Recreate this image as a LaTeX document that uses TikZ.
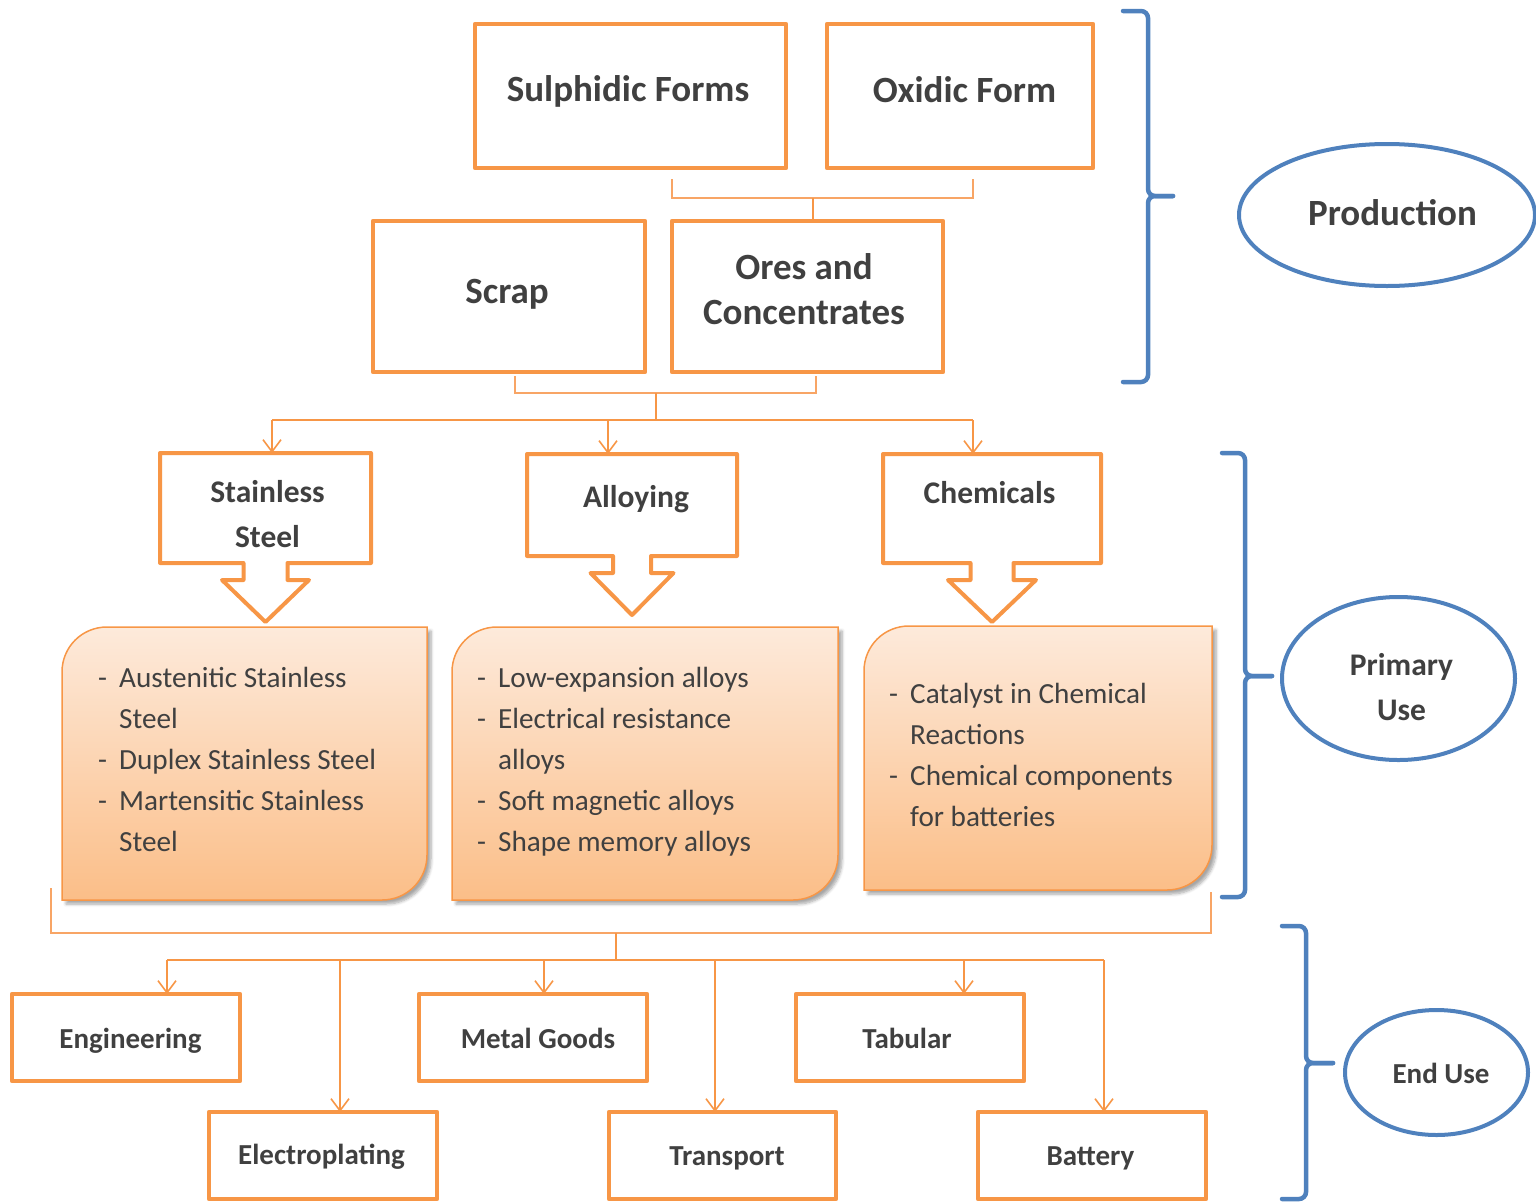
\documentclass[tikz,border=0pt]{standalone}
\usepackage{fontspec}
\setmainfont{Carlito}
\usetikzlibrary{arrows.meta,shadows,shadows.blur,calc,shapes.geometric}
\definecolor{org}{HTML}{F79646}
\definecolor{orgl}{HTML}{F8A565}
\definecolor{blu}{HTML}{4F81BD}
\definecolor{txt}{HTML}{404040}
\definecolor{ptop}{HTML}{FDEADB}
\definecolor{pbot}{HTML}{FBBE88}
\begin{document}
\begin{tikzpicture}[x=1pt,y=-1pt,
  obox/.style={draw=org,line width=4.5pt,line join=round,inner sep=0pt,outer sep=0pt},
  hold/.style={inner sep=0pt,outer sep=0pt},
  callout/.style={draw=org,line width=4pt,line join=round,fill=white},
  ubox/.style={draw=org,line width=1.5pt,top color=ptop,bottom color=pbot,
    blur shadow={shadow xshift=4pt,shadow yshift=-4pt,shadow blur steps=6,shadow blur radius=3pt,shadow opacity=35}},
  ell/.style={draw=blu,line width=4pt,ellipse,inner sep=0pt},
  brace/.style={draw=blu,line width=4.5pt,rounded corners=7pt,line cap=round},
  conn/.style={draw=org,line width=1.6pt},
  conl/.style={draw=orgl,line width=1.4pt},
  arr/.style={conn,-{Straight Barb[length=12pt,width=18pt,line width=1.6pt]}},
  lbig/.style={anchor=base,inner sep=0pt,text=txt,font=\fontsize{37}{45}\selectfont\bfseries},
  lmid/.style={anchor=base,inner sep=0pt,text=txt,font=\fontsize{31.5}{45}\selectfont\bfseries},
  lsml/.style={anchor=base,inner sep=0pt,text=txt,font=\fontsize{29}{45}\selectfont\bfseries},
  list/.style={anchor=base west,inner sep=0pt,text=txt,font=\fontsize{29.2}{41}\selectfont}
]
\useasboundingbox (0,0) rectangle (1536,1202);

% ---------- production boxes
\node[obox,minimum width=311pt,minimum height=144pt] (sulph) at (630.5,96) {};
\node[obox,minimum width=266pt,minimum height=144pt] (oxid) at (960,96) {};
\node[obox,minimum width=272pt,minimum height=151pt] (scrap) at (509,296.5) {};
\node[obox,minimum width=271pt,minimum height=151pt] (ores) at (807.5,296.5) {};
\node[lbig] (tsulph) at (628,101) {Sulphidic Forms};
\node[lbig] (toxid) at (964.5,102) {Oxidic Form};
\node[lbig] (tscrap) at (507,303) {Scrap};
\node[lbig] (tores) at (804,279) {\begin{tabular}[t]{@{}c@{}}Ores and\\Concentrates\end{tabular}};

% ---------- connectors production
\coordinate (p1) at (672,179);
\coordinate (p1b) at (672,198);
\coordinate (p2b) at (973,198);
\coordinate (p2) at (973,179);
\coordinate (pj) at (813,198);
\draw[conl] (p1) -- (p1b) -- (p2b) -- (p2);
\draw[conn] (pj) -- (pj |- ores.north);
\coordinate (q1) at (515,376);
\coordinate (q1b) at (515,393);
\coordinate (q2b) at (816,393);
\coordinate (q2) at (816,376);
\coordinate (qj) at (656,393);
\coordinate (qk) at (656,420);
\draw[conl] (q1) -- (q1b) -- (q2b) -- (q2);
\draw[conn] (qj) -- (qk);
\coordinate (r1) at (272,420);
\coordinate (r2) at (608,420);
\coordinate (r3) at (973,420);
\draw[conn] (r1) -- (r3);

% ---------- primary use callouts
\node[hold,minimum width=211pt,minimum height=110pt] (ss) at (265.5,508) {};
\node[hold,minimum width=210pt,minimum height=102pt] (al) at (632,505) {};
\node[hold,minimum width=218pt,minimum height=109pt] (ch) at (992,508.5) {};
\foreach \n/\s/\h in {ss/22/43.5, al/19/41.5, ch/21.5/44}{
  \draw[callout] (\n.north west) -- (\n.north east) -- (\n.south east)
    -- ($(\n.south)+(\s,0)$) -- ($(\n.south)+(\s,17)$) -- ($(\n.south)+(\h,17)$)
    -- ($(\n.south)+(0,59)$) -- ($(\n.south)+(-\h,17)$) -- ($(\n.south)+(-\s,17)$)
    -- ($(\n.south)+(-\s,0)$) -- (\n.south west) -- cycle;
}
\node[lmid] (tss) at (267.5,502) {\begin{tabular}[t]{@{}c@{}}Stainless\\Steel\end{tabular}};
\node[lmid] (tal) at (636,507) {Alloying};
\node[lmid] (tch) at (989.5,503) {Chemicals};
\draw[arr] (r1) -- (r1 |- ss.north);
\draw[arr] (r2) -- (r2 |- al.north);
\draw[arr] (r3) -- (r3 |- ch.north);

% ---------- rounded list boxes
\node[hold,minimum width=365pt,minimum height=273pt] (u1) at (244.5,763.5) {};
\node[hold,minimum width=386pt,minimum height=273pt] (u2) at (645,763.5) {};
\node[hold,minimum width=348pt,minimum height=264pt] (u3) at (1038,758) {};
\foreach \n in {u1,u2,u3}{
  \path[ubox] (\n.south west) -- ([yshift=-45pt]\n.north west)
    .. controls ([yshift=-20pt]\n.north west) and ([xshift=20pt]\n.north west) .. ([xshift=45pt]\n.north west)
    -- (\n.north east) -- ([yshift=45pt]\n.south east)
    .. controls ([yshift=20pt]\n.south east) and ([xshift=-20pt]\n.south east) .. ([xshift=-45pt]\n.south east)
    -- cycle;
}
\node[list] (l1) at (98,687) {\begin{tabular}[t]{@{}p{21pt}@{}l@{}}
-&Austenitic Stainless\\ &Steel\\ -&Duplex Stainless Steel\\ -&Martensitic Stainless\\ &Steel\end{tabular}};
\node[list] (l2) at (477,687) {\begin{tabular}[t]{@{}p{21pt}@{}l@{}}
-&Low-expansion alloys\\ -&Electrical resistance\\ &alloys\\ -&Soft magnetic alloys\\ -&Shape memory alloys\end{tabular}};
\node[list] (l3) at (889,703) {\begin{tabular}[t]{@{}p{21pt}@{}l@{}}
-&Catalyst in Chemical\\ &Reactions\\ -&Chemical components\\ &for batteries\end{tabular}};

% ---------- end use connectors
\coordinate (s1) at (51,888);
\coordinate (s1b) at (51,933);
\coordinate (s2b) at (1211,933);
\coordinate (s2) at (1211,892);
\coordinate (sj) at (616,933);
\coordinate (sk) at (616,960);
\draw[conl] (s1) -- (s1b) -- (s2b) -- (s2);
\draw[conn] (sj) -- (sk);
\coordinate (e1) at (167,960);
\coordinate (e2) at (340,960);
\coordinate (e3) at (544,960);
\coordinate (e4) at (715,960);
\coordinate (e5) at (964,960);
\coordinate (e6) at (1104,960);
\draw[conn] (e1) -- (e6);

% ---------- end use boxes
\node[obox,minimum width=228pt,minimum height=87pt] (eng) at (126,1037.5) {};
\node[obox,minimum width=228pt,minimum height=87pt] (metal) at (533,1037.5) {};
\node[obox,minimum width=228pt,minimum height=87pt] (tab) at (910,1037.5) {};
\node[obox,minimum width=228pt,minimum height=87pt] (elec) at (323,1155.5) {};
\node[obox,minimum width=227pt,minimum height=87pt] (trans) at (722.5,1155.5) {};
\node[obox,minimum width=228pt,minimum height=87pt] (batt) at (1092,1155.5) {};
\node[lsml] (teng) at (130.5,1048) {Engineering};
\node[lsml] (tmetal) at (538,1048) {Metal Goods};
\node[lsml] (ttab) at (907,1048) {Tabular};
\node[lsml] (telec) at (321.5,1164) {Electroplating};
\node[lsml] (ttrans) at (727,1165) {Transport};
\node[lsml] (tbatt) at (1090.5,1165) {Battery};
\draw[arr] (e1) -- (e1 |- eng.north);
\draw[arr] (e2) -- (e2 |- elec.north);
\draw[arr] (e3) -- (e3 |- metal.north);
\draw[arr] (e4) -- (e4 |- trans.north);
\draw[arr] (e5) -- (e5 |- tab.north);
\draw[arr] (e6) -- (e6 |- batt.north);

% ---------- braces and ellipses
\draw[brace] (1123,11) -- (1148,11) -- (1148,196) -- (1173,196);
\draw[brace] (1123,382) -- (1148,382) -- (1148,196) -- (1173,196);
\draw[brace] (1222,453) -- (1245,453) -- (1245,676) -- (1272,676);
\draw[brace] (1222,897) -- (1245,897) -- (1245,676) -- (1272,676);
\draw[brace] (1282,926) -- (1306,926) -- (1306,1063) -- (1333,1063);
\draw[brace] (1282,1199) -- (1306,1199) -- (1306,1063) -- (1333,1063);

\node[ell,minimum width=296pt,minimum height=142pt] (prod) at (1387,215) {};
\node[ell,minimum width=233pt,minimum height=163pt] (prim) at (1398.5,678.5) {};
\node[ell,minimum width=183pt,minimum height=125pt] (enduse) at (1436.5,1072.5) {};
\node[lbig] (tprod) at (1392.5,225) {Production};
\node[lmid] (tprim) at (1401.5,675) {\begin{tabular}[t]{@{}c@{}}Primary\\Use\end{tabular}};
\node[lsml] (tend) at (1441,1083) {End Use};
\end{tikzpicture}
\end{document}
